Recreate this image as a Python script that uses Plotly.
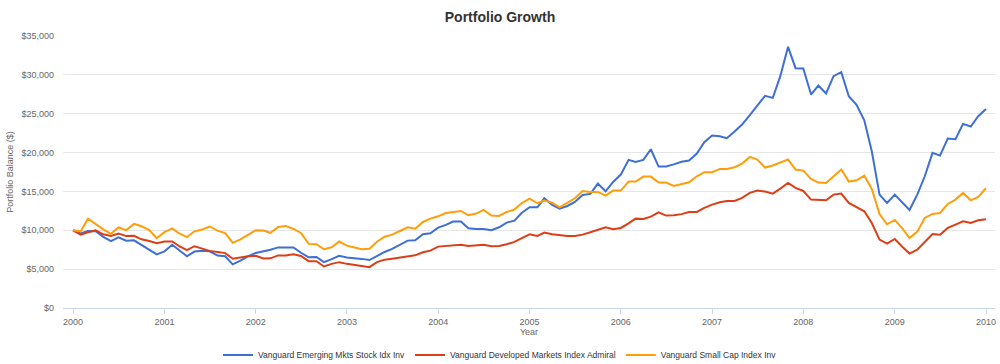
import pandas as pd
import plotly.graph_objects as go

# Monthly dates Jan 2000 .. Jan 2010
start_month = "2000-01-01"
n_months = 121
dates = pd.date_range(start_month, periods=n_months, freq="MS")

series_names = [
    "Vanguard Emerging Mkts Stock Idx Inv",
    "Vanguard Developed Markets Index Admiral",
    "Vanguard Small Cap Index Inv",
]

emerging = [
    10000, 9600, 9900, 9870, 9160, 8600, 9080, 8650, 8710, 8130, 7520, 6900,
    7290, 8130, 7440, 6660, 7260, 7370, 7300, 6740, 6650, 5620, 6090, 6650,
    7090, 7300, 7500, 7800, 7820, 7800, 7110, 6520, 6560, 5900, 6280, 6710,
    6500, 6450, 6320, 6170, 6720, 7210, 7600, 8110, 8670, 8710, 9480, 9610,
    10340, 10690, 11120, 11120, 10260, 10170, 10170, 10000, 10390, 10990, 11240, 12250,
    12960, 12960, 14120, 13260, 12790, 13130, 13650, 14550, 14680, 16010, 15020, 16220,
    17170, 19060, 18800, 19060, 20430, 18200, 18200, 18480, 18820, 18970, 19870, 21330,
    22190, 22100, 21850, 22700, 23610, 24810, 26010, 27300, 27040, 29830, 33610, 30860,
    30820, 27470, 28630, 27600, 29830, 30340, 27250, 26140, 24160, 20170, 14590, 13520,
    14590, 13520, 12620, 14590, 16950, 19960, 19610, 21800, 21720, 23690, 23350, 24680,
    25620,
]

developed = [
    10000, 9440, 9740, 10000, 9480, 9270, 9590, 9250, 9290, 8840, 8620, 8340,
    8560, 8560, 7950, 7440, 7950, 7650, 7350, 7220, 7060, 6340, 6500, 6650,
    6710, 6370, 6390, 6770, 6770, 6920, 6690, 6030, 6010, 5340, 5680, 5900,
    5680, 5510, 5340, 5260, 5910, 6220, 6350, 6480, 6610, 6780, 7170, 7380,
    7900, 7980, 8110, 8150, 7980, 8030, 8150, 7940, 7980, 8200, 8500, 9000,
    9480, 9270, 9700, 9480, 9360, 9270, 9270, 9440, 9740, 10040, 10390, 10130,
    10300, 10900, 11500, 11460, 11760, 12320, 11890, 11930, 12080, 12360, 12360, 12880,
    13300, 13600, 13780, 13780, 14160, 14810, 15110, 14980, 14720, 15360, 16090, 15450,
    15060, 13950, 13860, 13860, 14590, 14720, 13520, 13000, 12450, 10940, 8800, 8280,
    8880, 7850, 7000, 7510, 8450, 9530, 9440, 10300, 10730, 11160, 10940, 11290,
    11420,
]

small_cap = [
    10000, 9870, 11480, 10770, 10130, 9550, 10360, 10020, 10820, 10520, 10020, 8980,
    9760, 10250, 9590, 9130, 9870, 10110, 10490, 9960, 9640, 8380, 8830, 9400,
    10000, 9960, 9680, 10430, 10560, 10170, 9660, 8250, 8210, 7560, 7820, 8550,
    8030, 7780, 7560, 7620, 8520, 9180, 9440, 9910, 10390, 10210, 11070, 11500,
    11800, 12230, 12400, 12490, 11930, 12150, 12620, 11890, 11850, 12360, 12660, 13500,
    14060, 13480, 13820, 13560, 12960, 13560, 14120, 15060, 14940, 14940, 14460, 15110,
    15110, 16270, 16270, 16910, 16910, 16140, 16140, 15700, 15960, 16180, 16950, 17470,
    17470, 17900, 17900, 18110, 18580, 19440, 19100, 18070, 18330, 18670, 19100, 17810,
    17680, 16610, 16140, 16090, 16950, 17810, 16270, 16440, 17040, 15320, 12100, 10770,
    11330, 10210, 9010, 9830, 11590, 12100, 12230, 13390, 13950, 14810, 13860, 14290,
    15410,
]

y_tick_values = [0, 5000, 10000, 15000, 20000, 25000, 30000, 35000]
y_tick_labels = ["$0", "$5,000", "$10,000", "$15,000", "$20,000", "$25,000", "$30,000", "$35,000"]

colors = ["#3d6fd4", "#dc3f17", "#ff9e0a"]
FONT = "Liberation Sans, Arial, sans-serif"

fig = go.Figure()
for name, vals, col in zip(series_names, [emerging, developed, small_cap], colors):
    fig.add_trace(go.Scatter(
        x=dates, y=vals, mode="lines", name=name,
        line=dict(color=col, width=2),
    ))

fig.update_layout(
    width=1000, height=364,
    margin=dict(l=63, r=5, t=36, b=56, autoexpand=False),
    paper_bgcolor="white", plot_bgcolor="white",
    font=dict(family=FONT, size=9, color="#666666"),
    title=dict(text="<b>Portfolio Growth</b>", x=0.5, xanchor="center",
               xref="container", yref="container", y=1 - 17 / 364, yanchor="middle",
               font=dict(family=FONT, size=14, color="#333333")),
    showlegend=True,
    legend=dict(orientation="h", xref="container", yref="container",
                x=0.5, xanchor="center", y=1 - 355 / 364, yanchor="middle",
                font=dict(family=FONT, size=8.5, color="#333333"),
                itemwidth=30, bgcolor="rgba(0,0,0,0)"),
)

fig.update_xaxes(
    range=["1999-11-22", "2010-02-06"],
    tick0="2000-01-01", dtick="M12", tickformat="%Y",
    showgrid=False, zeroline=False,
    showline=True, linecolor="#ccd6eb", linewidth=1,
    ticks="outside", tickcolor="#ccd6eb", ticklen=5,
    tickfont=dict(family=FONT, size=9, color="#666666"),
    title=dict(text="Year", standoff=1, font=dict(family=FONT, size=9, color="#666666")),
)

fig.update_yaxes(
    range=[0, 35000],
    tickvals=y_tick_values, ticktext=y_tick_labels,
    showgrid=True, gridcolor="#e6e6e6", gridwidth=1,
    zeroline=False, showline=False, ticks="",
    ticklabelstandoff=8,
    tickfont=dict(family=FONT, size=9, color="#666666"),
    title=dict(text="Portfolio Balance ($)", standoff=6,
               font=dict(family=FONT, size=9, color="#666666")),
)

fig.write_html(
    "out.html",
    config={"displayModeBar": False},
    post_script="document.body.style.margin='0px';document.body.style.overflow='hidden';",
)
